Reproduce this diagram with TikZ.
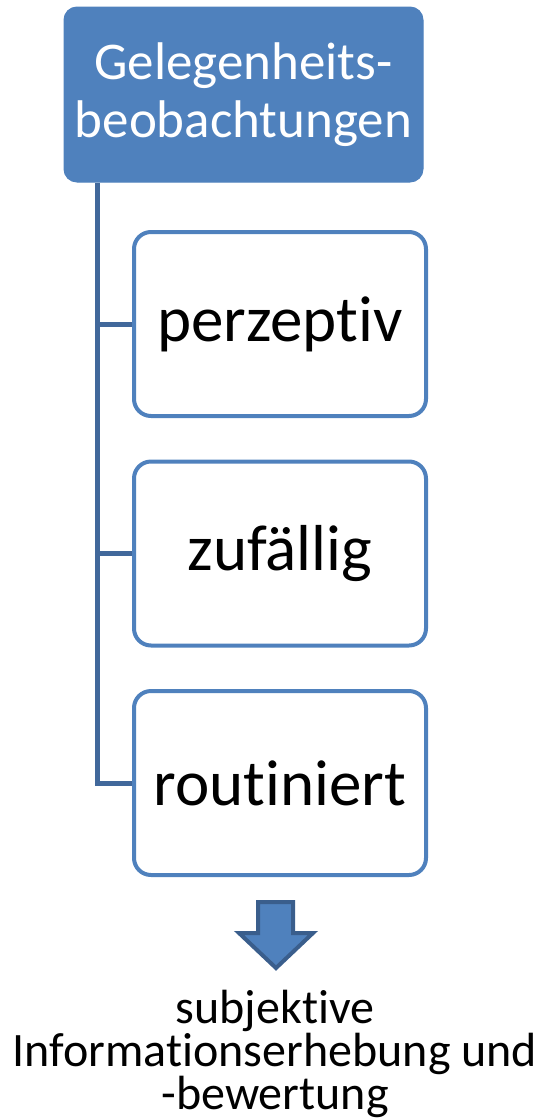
\documentclass[tikz,border=0pt]{standalone}
\usepackage{fontspec}
\setmainfont[Ligatures={NoCommon,NoRare,NoContextual,NoRequired}]{Carlito}
\newcommand{\brk}{\kern0pt }
\definecolor{accent}{RGB}{79,129,189}
\definecolor{linedark}{RGB}{65,104,155}
\definecolor{arrowdark}{RGB}{58,94,140}
\tikzset{
  headbox/.style={fill=accent, draw=accent, rounded corners=13pt, text=white, align=center,
    minimum width=359pt, minimum height=175pt, inner sep=0pt, line width=1pt,
    font=\fontsize{53}{58}\selectfont},
  itembox/.style={draw=accent, fill=white, line width=4pt, rounded corners=17pt,
    minimum width=292pt, minimum height=184pt, inner sep=0pt,
    font=\fontsize{65}{78}\selectfont},
  conn/.style={draw=linedark, line width=5pt},
  bigarrow/.style={fill=accent, draw=arrowdark, line width=4pt, line join=miter},
  caption/.style={align=center, font=\fontsize{48}{37}\selectfont, inner sep=0pt}
}
\begin{document}
\begin{tikzpicture}[x=1pt,y=-1pt]
\useasboundingbox (0,0) rectangle (542,1120);
\node[headbox] (head) at (243.5,94.5) {Gelegenheits-\\beobachtungen};
\node[itembox] (b1) at (280,324) {perzept\brk iv};
\node[itembox] (b2) at (280,553.5) {zufällig};
\node[itembox] (b3) at (280,783) {rout\brk iniert};
\coordinate (t0) at (97,183);
\draw[conn] (t0) |- (b3.west);
\draw[conn] (t0 |- b1.west) -- (b1.west);
\draw[conn] (t0 |- b2.west) -- (b2.west);
\draw[bigarrow] (258,902) -- (293,902) -- (293,933) -- (313,933) -- (276,968) -- (239,933) -- (258,933) -- cycle;
\node[caption] (cap) at (275,1054) {subjekt\brk ive\\Informat\brk ionserhebung und\\-bewertung};
\end{tikzpicture}
\end{document}
